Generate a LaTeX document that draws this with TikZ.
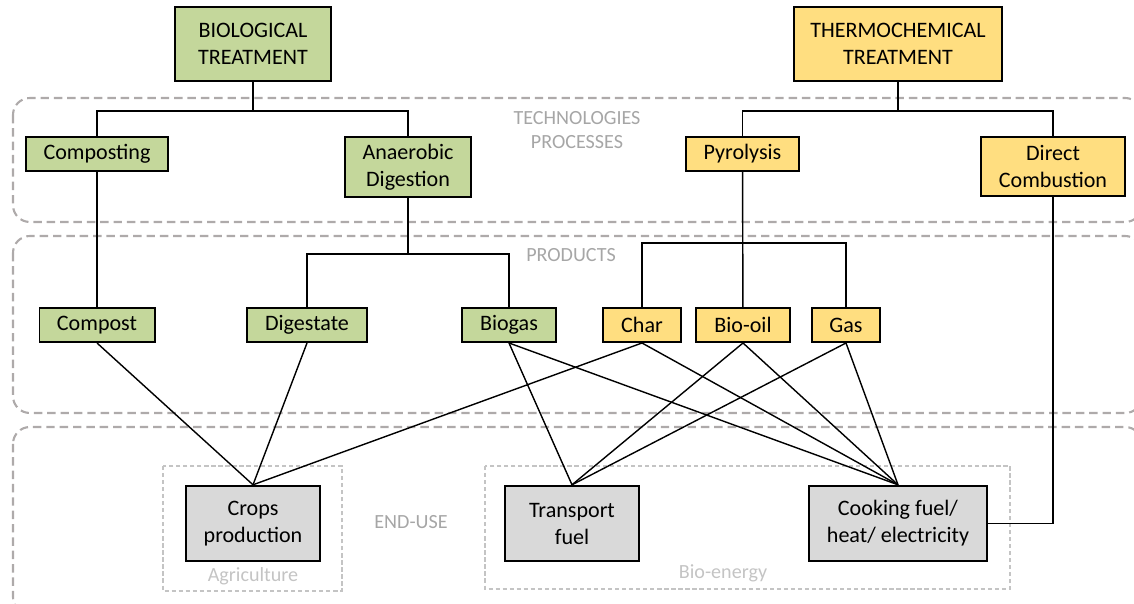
\documentclass[tikz,border=0pt]{standalone}
\usepackage{fontspec}
\setmainfont{Carlito}
\definecolor{biogreen}{HTML}{C4D79B}
\definecolor{thermoyellow}{HTML}{FFDE80}
\definecolor{usegray}{HTML}{D9D9D9}
\definecolor{zonegray}{HTML}{AEAAAA}
\definecolor{labelgray}{HTML}{A6A6A6}
\definecolor{subgray}{HTML}{C4C4C4}

\begin{document}
\begin{tikzpicture}
[x=0.025cm, y=-0.025cm, font=\fontsize{15.7}{19.2}\selectfont]
\tikzstyle{box}=[draw, line width=1.4pt, align=center, inner sep=0pt]
\tikzstyle{bio}=[box, fill=biogreen]
\tikzstyle{thermo}=[box, fill=thermoyellow]
\tikzstyle{enduse}=[box, fill=usegray, line width=1.7pt, minimum width=3.35cm, minimum height=1.875cm]
\tikzstyle{small}=[minimum height=0.85cm]
\tikzstyle{zone}=[draw=zonegray, line width=1.5pt, dash pattern=on 6pt off 3.5pt, rounded corners=12pt]
\tikzstyle{group}=[draw=subgray, line width=1pt, dash pattern=on 3pt off 2pt]
\tikzstyle{tag}=[text=labelgray, font=\fontsize{14.3}{17}\selectfont, align=center]
\tikzstyle{link}=[line width=1pt]

\useasboundingbox (0,0) rectangle (1134,604);

% zones and groups
\draw[zone]	(13,98)	rectangle (1142,222);
\draw[zone]	(13,236)	rectangle (1142,413);
\draw[zone]	(13,427)	rectangle (1142,614);
\draw[group]	(163,466)	rectangle (342,591);
\draw[group]	(485,466)	rectangle (1010,589);

\node[tag]	(techlbl)	at (577,130)	{TECHNOLOGIES\\PROCESSES};
\node[tag]	(prodlbl)	at (571,255)	{PRODUCTS};
\node[tag]	(endlbl)	at (411,522)	{END-USE};
\node[tag, text=subgray]	(agrilbl)	at (253,576)	{Agriculture};
\node[tag, text=subgray]	(enerlbl)	at (723,573)	{Bio-energy};

% treatments
\node[bio, minimum width=3.9cm, minimum height=1.85cm]	(BT)	at (253,44)	{BIOLOGICAL\\TREATMENT};
\node[thermo, minimum width=5.2cm, minimum height=1.85cm]	(TT)	at (898,44)	{THERMOCHEMICAL\\TREATMENT};

% processes
\node[bio, small, minimum width=3.55cm]	(Comp)	at (97,154)	{Composting};
\node[bio, minimum width=3.15cm, minimum height=1.5cm]	(AD)	at (408,167)	{Anaerobic\\Digestion};
\node[thermo, small, minimum width=2.825cm]	(Pyro)	at (742.5,154)	{Pyrolysis};
\node[thermo, minimum width=3.6cm, minimum height=1.475cm]	(DC)	at (1053,166.5)	{Direct\\Combustion};

% products
\node[bio, small, minimum width=2.875cm]	(Compost)	at (97,325)	{Compost};
\node[bio, small, minimum width=3cm]	(Dig)	at (307,325)	{Digestate};
\node[bio, small, minimum width=2.35cm]	(Biogas)	at (509,325)	{Biogas};
\node[thermo, small, minimum width=1.95cm]	(Char)	at (642,325)	{Char};
\node[thermo, small, minimum width=2.35cm]	(Oil)	at (743,325)	{Bio-oil};
\node[thermo, small, minimum width=1.7cm]	(Gas)	at (846,325)	{Gas};

% end uses
\node[enduse]	(Crops)	at (253,523.5)	{Crops\\production};
\node[enduse]	(Trans)	at (572,523.5)	{Transport\\fuel};
\node[enduse, minimum width=4.45cm]	(Cook)	at (898,523.5)	{Cooking fuel/\\heat/ electricity};

% tree
\coordinate (bsplit) at (253,111);
\coordinate (tsplit) at (898,111);
\coordinate (asplit) at (408,254);
\coordinate (psplit) at (743,243);
\draw[link] (BT)--(bsplit);
\draw[link] (Comp.north) |- (bsplit) -| (AD.north);
\draw[link] (TT)--(tsplit);
\draw[link] (Pyro.north) |- (tsplit) -| (DC.north);
\draw[link] (Comp)--(Compost);
\draw[link] (AD)--(asplit);
\draw[link] (Dig.north) |- (asplit) -| (Biogas.north);
\draw[link] (Pyro)--(Oil);
\draw[link] (Char.north) |- (psplit) -| (Gas.north);
\draw[link] (DC.south) |- (Cook.east);

% products to end uses
\draw[link] (Compost.south)--(Crops.north);
\draw[link] (Dig.south)--(Crops.north);
\draw[link] (Char.south)--(Crops.north);
\draw[link] (Biogas.south)--(Trans.north);
\draw[link] (Oil.south)--(Trans.north);
\draw[link] (Gas.south)--(Trans.north);
\draw[link] (Biogas.south)--(Cook.north);
\draw[link] (Char.south)--(Cook.north);
\draw[link] (Oil.south)--(Cook.north);
\draw[link] (Gas.south)--(Cook.north);

\end{tikzpicture}
\end{document}
